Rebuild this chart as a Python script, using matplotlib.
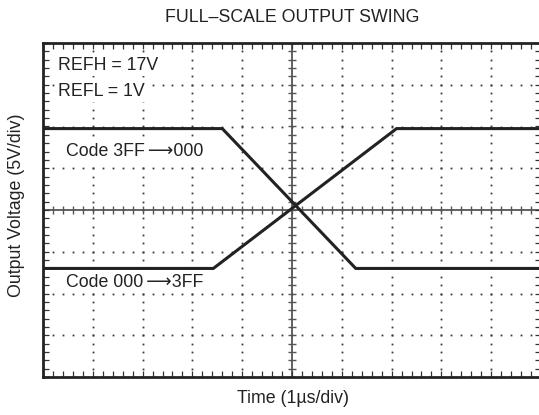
import numpy as np
import matplotlib
matplotlib.use('Agg')
import matplotlib.pyplot as plt

# scope traces, in divisions (x: 1us/div, y: 5V/div, 0 = screen centre)
fall_t = [0.0, 3.6, 6.28, 10.0]
fall_v = [1.95, 1.95, -1.4, -1.4]
rise_t = [0.0, 3.42, 7.1, 10.0]
rise_v = [-1.4, -1.4, 1.95, 1.95]

title = 'FULL\u2013SCALE OUTPUT SWING'
xlabel = 'Time (1\u00b5s/div)'
ylabel = 'Output Voltage (5V/div)'
notes = ['REFH = 17V', 'REFL = 1V']
fall_label = 'Code 3FF\u2006\u27f6000'
rise_label = 'Code 000\u2006\u27f63FF'

plt.rcParams['font.family'] = ['Liberation Sans', 'DejaVu Sans']

fig = plt.figure(figsize=(5.39, 4.15), dpi=100)
ax = fig.add_axes([43 / 539, 1 - 377 / 415, 498 / 539, 334 / 415])
ax.set_xlim(0, 10)
ax.set_ylim(-4, 4)

grid_col = '#3a3a3a'
xm = np.arange(0, 10.01, 0.2)
ym = np.arange(-4, 4.01, 0.2)

# dotted graticule
for gx in range(1, 10):
    if gx == 5:
        continue
    ax.plot(np.full_like(ym, gx), ym, ls='none', marker='s', ms=1.3,
            mfc=grid_col, mec='none', zorder=1)
for gy in range(-3, 4):
    if gy == 0:
        continue
    ax.plot(xm, np.full_like(xm, gy), ls='none', marker='s', ms=1.3,
            mfc=grid_col, mec='none', zorder=1)

# centre cross with tick marks
ax.axvline(5, color='#555555', lw=1.3, zorder=1)
ax.axhline(0, color='#555555', lw=1.3, zorder=1)
ax.plot(xm, np.zeros_like(xm), ls='none', marker='|', ms=6, mew=1.0,
        color='#555555', zorder=1)
ax.plot(np.full_like(ym, 5), ym, ls='none', marker='_', ms=6, mew=1.0,
        color='#555555', zorder=1)

# border ticks pointing inward
ax.set_xticks(xm)
ax.set_yticks(ym)
ax.tick_params(axis='both', direction='in', length=4, width=0.9,
               color='#333333', top=True, right=True,
               labelbottom=False, labelleft=False)
for s in ax.spines.values():
    s.set_linewidth(2.0)
    s.set_color('#222222')

ax.plot(fall_t, fall_v, color='#222222', lw=2.2, solid_joinstyle='miter', zorder=3)
ax.plot(rise_t, rise_v, color='#222222', lw=2.2, solid_joinstyle='miter', zorder=3)

fs = 12.8
box = dict(facecolor='white', edgecolor='none', pad=1.5)
ax.text(0.3, 3.35, notes[0], fontsize=fs, va='baseline', color='#222222',
        bbox=box, zorder=2)
ax.text(0.3, 2.74, notes[1], fontsize=fs, va='baseline', color='#222222',
        bbox=box, zorder=2)
ax.text(0.46, 1.3, fall_label, fontsize=fs, va='baseline', color='#222222',
        bbox=box, zorder=2)
ax.text(0.46, -1.84, rise_label, fontsize=fs, va='baseline', color='#222222',
        bbox=box, zorder=2)

fig.text(292 / 539, 1 - 17 / 415, title, fontsize=fs, ha='center', va='center',
         color='#222222')
fig.text(293 / 539, 1 - 398 / 415, xlabel, fontsize=fs, ha='center', va='center',
         color='#222222')
fig.text(17 / 539, 1 - 205 / 415, ylabel, fontsize=fs, ha='center', va='center',
         rotation=90, color='#222222')

fig.savefig('out.png', dpi=100)
